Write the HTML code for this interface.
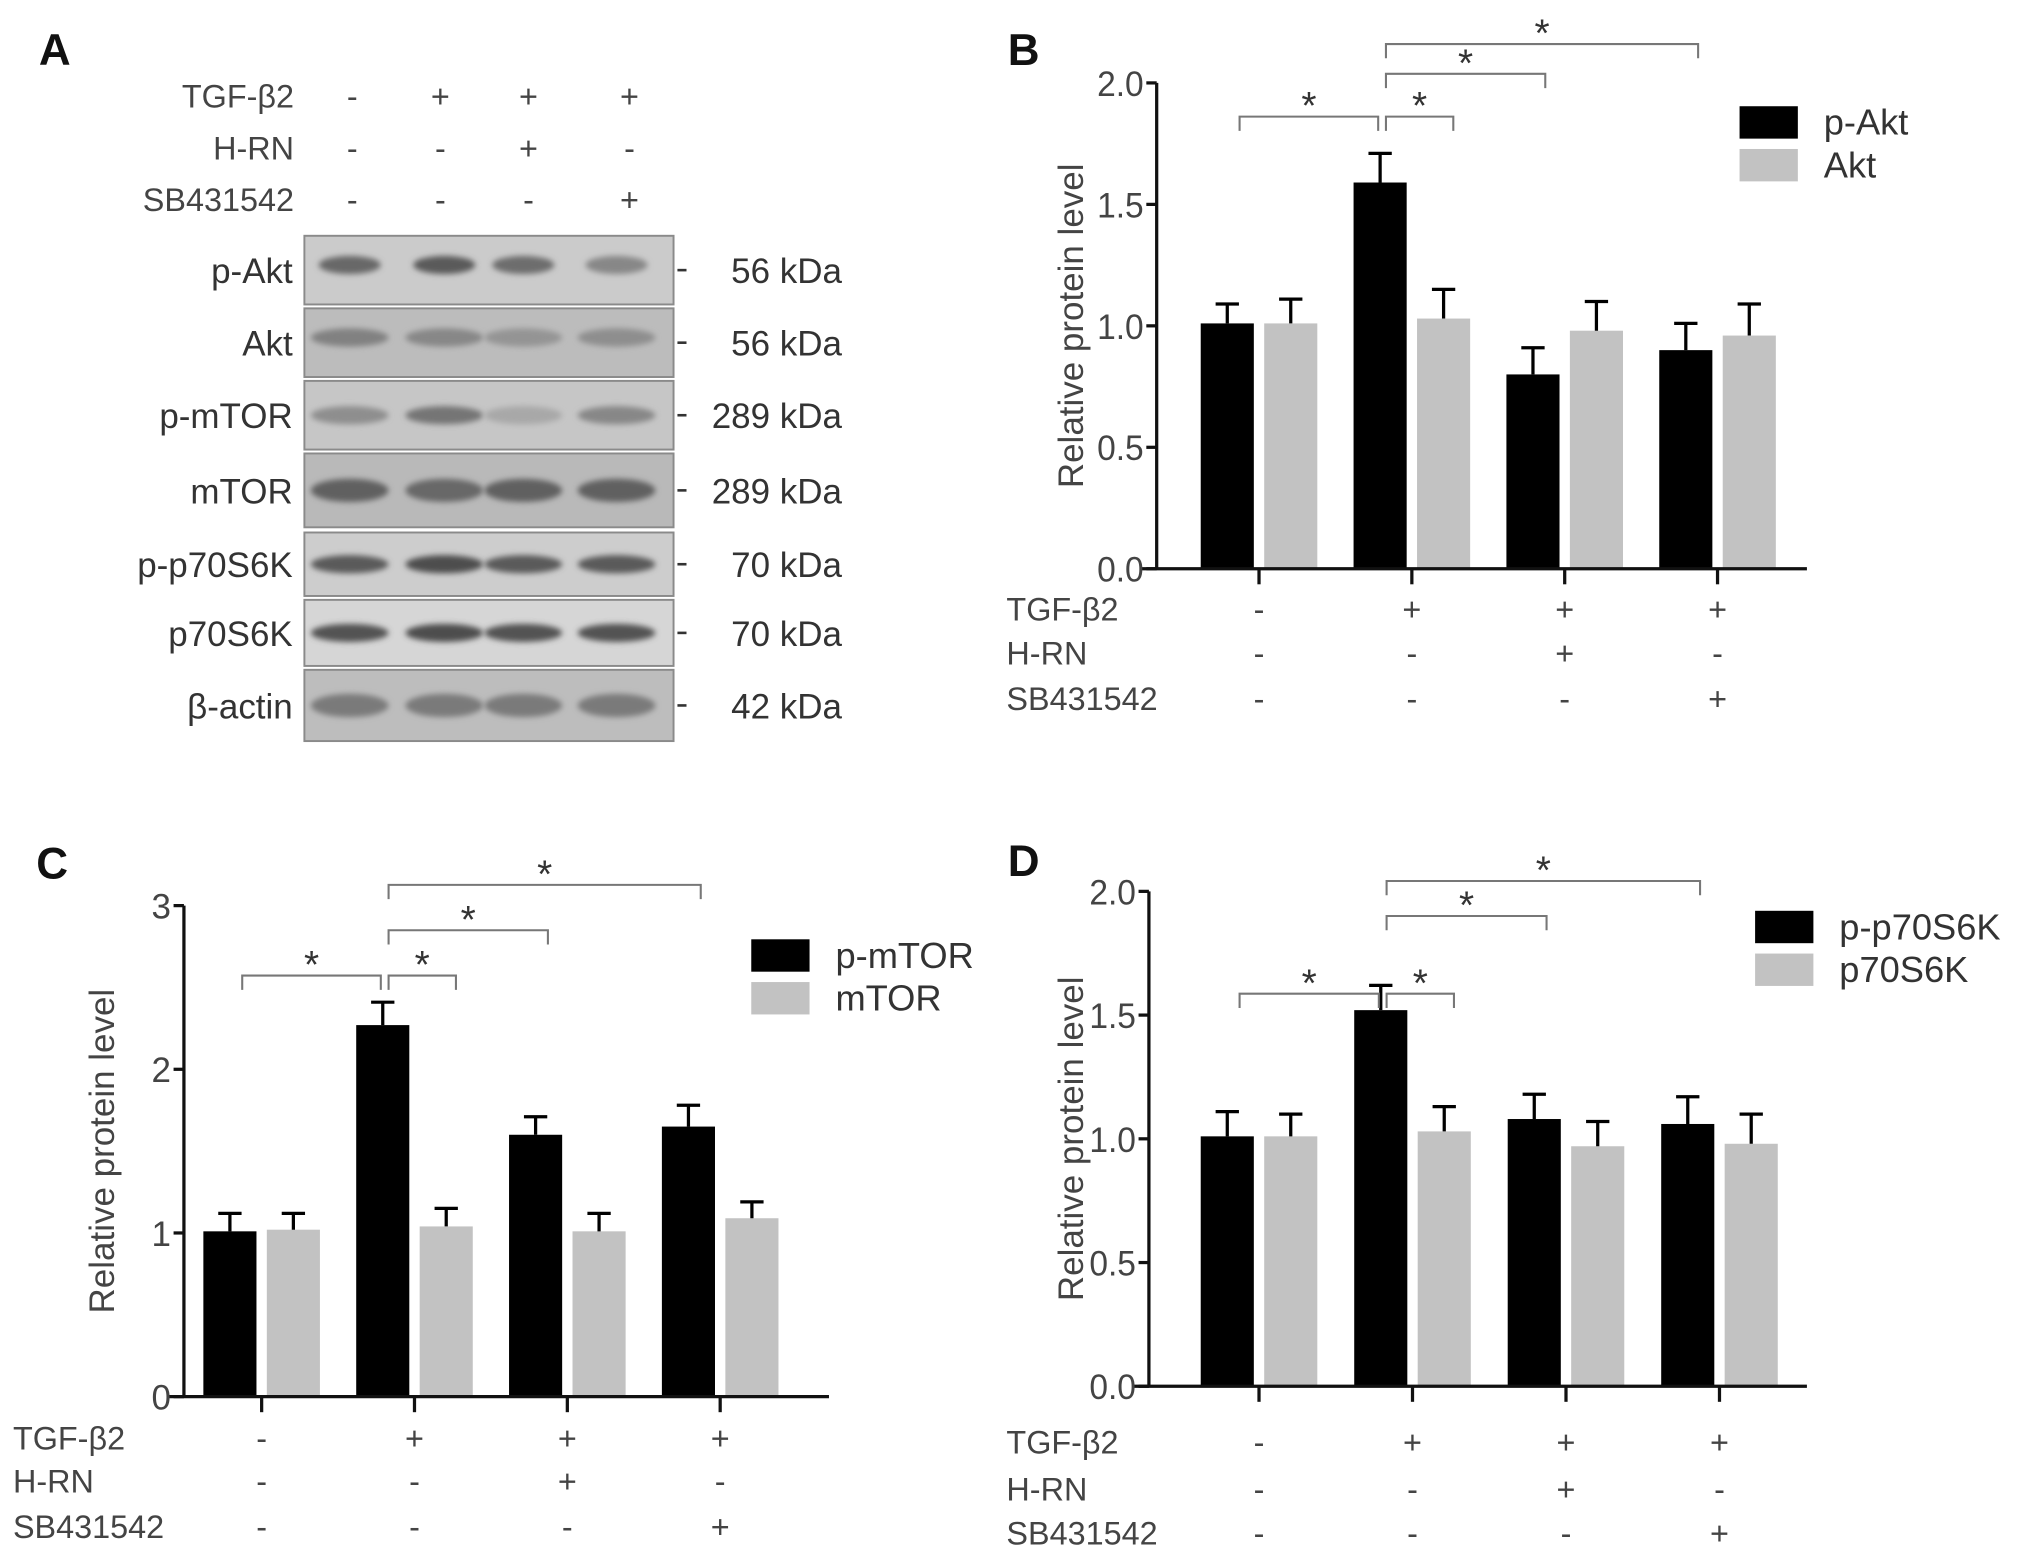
<!DOCTYPE html>
<html><head><meta charset="utf-8"><style>
html,body{margin:0;padding:0;background:#fff;}
svg{display:block;font-family:"Liberation Sans",sans-serif;}
</style></head><body>
<svg id="fig" width="2031" height="1556" viewBox="0 0 1568 1201" preserveAspectRatio="none" xmlns="http://www.w3.org/2000/svg">
<defs><filter id="blur" x="-20%" y="-50%" width="140%" height="200%"><feGaussianBlur stdDeviation="2.2"/></filter></defs>
<g id="panelA"></g>
<g id="panelB"></g>
<g id="panelC"></g>
<g id="panelD"></g>
</svg>
<script>
// ---- data ----
const groups = ["Control","TGF-β2","TGF-β2+H-RN","TGF-β2+SB431542"];
const treatRows = ["TGF-β2","H-RN","SB431542"];
const treatSigns = [["-","+","+","+"],["-","-","+","-"],["-","-","-","+"]];
const pAkt = [1.01,1.59,0.80,0.90];
const pAktErr = [0.08,0.12,0.11,0.11];
const akt = [1.01,1.03,0.98,0.96];
const aktErr = [0.10,0.12,0.12,0.13];
const pmTOR = [1.01,2.27,1.60,1.65];
const pmTORErr = [0.11,0.14,0.11,0.13];
const mTOR = [1.02,1.04,1.01,1.09];
const mTORErr = [0.10,0.11,0.11,0.10];
const pp70 = [1.01,1.52,1.08,1.06];
const pp70Err = [0.10,0.10,0.10,0.11];
const p70 = [1.01,1.03,0.97,0.98];
const p70Err = [0.09,0.10,0.10,0.12];
const ticksB = [0,0.5,1.0,1.5,2.0];
const tickLabelsB = ["0.0","0.5","1.0","1.5","2.0"];
const ticksC = [0,1,2,3];
const tickLabelsC = ["0","1","2","3"];
const blotRows = ["p-Akt","Akt","p-mTOR","mTOR","p-p70S6K","p70S6K","β-actin"];
const blotKDa = ["56 kDa","56 kDa","289 kDa","289 kDa","70 kDa","70 kDa","42 kDa"];
const bandIntensity = [[0.75,0.85,0.7,0.5],[0.55,0.5,0.4,0.45],[0.45,0.65,0.25,0.5],[0.8,0.75,0.8,0.8],[0.85,0.95,0.85,0.85],[0.9,0.95,0.9,0.9],[0.6,0.6,0.6,0.6]];
const brackets = [[0,1],[1,1.5],[1,2],[1,3]];

const NS="http://www.w3.org/2000/svg";
function mk(parent,tag,attrs,text){const e=document.createElementNS(NS,tag);for(const k in attrs)e.setAttribute(k,attrs[k]);if(text!==undefined)e.textContent=text;parent.appendChild(e);return e;}

function drawChart(g, cfg){
  const y=v=>cfg.y0-(v/cfg.yMax)*(cfg.y0-cfg.yTop);
  const cx=i=>cfg.tick0+i*cfg.step;
  const bw=41, gap=4;
  let t=mk(g,'text',{x:cfg.letterX,y:cfg.letterY,'font-size':34,'font-weight':'bold',fill:'#111'},cfg.letter);
  
  
  cfg.s1.forEach((v,i)=>{
    const x1=cx(i)-gap-bw, x2=cx(i)+gap;
    let r=mk(g,'rect',{x:x1,y:y(v),width:bw,height:y(0)-y(v),fill:'#000'});
    
    
    let e=mk(g,'path',{d:`M${x1+bw/2} ${y(v)}V${y(v+cfg.e1[i])}M${x1+bw/2-9} ${y(v+cfg.e1[i])}H${x1+bw/2+9}`,stroke:'#000','stroke-width':2.5,fill:'none'});
    
    
    const v2=cfg.s2[i];
    let r2=mk(g,'rect',{x:x2,y:y(v2),width:bw,height:y(0)-y(v2),fill:'#c2c2c2'});
    
    
    let e2=mk(g,'path',{d:`M${x2+bw/2} ${y(v2)}V${y(v2+cfg.e2[i])}M${x2+bw/2-9} ${y(v2+cfg.e2[i])}H${x2+bw/2+9}`,stroke:'#000','stroke-width':2.5,fill:'none'});
    
    
  });
  let ax=mk(g,'path',{d:`M${cfg.ax} ${cfg.yTop}V${cfg.y0}M${cfg.ax-12} ${cfg.y0}H${cfg.xEnd}`,stroke:'#111','stroke-width':2.5,fill:'none'});
  
  
  cfg.ticks.forEach((tv,i)=>{
    let tk=mk(g,'line',{x1:cfg.ax-8,x2:cfg.ax,y1:y(tv),y2:y(tv),stroke:'#111','stroke-width':2.5});
    
    
    let tl=mk(g,'text',{x:cfg.ax-10,y:y(tv)+10,'font-size':27,'text-anchor':'end',fill:'#444','textLength':cfg.tickLabels[i].length>1?36:'', 'lengthAdjust':'spacingAndGlyphs'},cfg.tickLabels[i]);
    if(cfg.tickLabels[i].length<2) tl.removeAttribute('textLength');
    
    
  });
  groups.forEach((gname,i)=>{
    let tk=mk(g,'line',{x1:cx(i),x2:cx(i),y1:cfg.y0,y2:cfg.y0+12,stroke:'#111','stroke-width':2.5});
    
    
  });
  let yt=mk(g,'text',{x:0,y:0,'font-size':27,'text-anchor':'middle',fill:'#444',transform:`translate(${cfg.titleX},${(cfg.yTop+cfg.y0)/2}) rotate(-90)`},'Relative protein level');
  
  
  treatRows.forEach((rn,ri)=>{
    const ry=cfg.rowY[ri];
    let l=mk(g,'text',{x:cfg.rowLabelX,y:ry+9,'font-size':25,fill:'#444'},rn);
    
    
    treatSigns[ri].forEach((s,i)=>{
      let st=mk(g,'text',{x:cx(i),y:ry+9,'font-size':25,'text-anchor':'middle',fill:'#444'},s);
      
      
    });
  });
  [[cfg.n1,'#000'],[cfg.n2,'#c2c2c2']].forEach((L,k)=>{
    const ly=cfg.legY+k*33;
    let r=mk(g,'rect',{x:cfg.legX,y:ly,width:45,height:25,fill:L[1]});
    
    
    let tx=mk(g,'text',{x:cfg.legX+65,y:ly+22,'font-size':28,fill:'#333'},L[0]);
    
    
  });
  brackets.forEach((b,k)=>{
    let x1,x2;
    if(k===0){x1=cx(0)-15;x2=cx(1)-26;}
    else if(k===1){x1=cx(1)-20;x2=cx(1)+32;}
    else{x1=cx(1)-20;x2=cx(b[1])-15;}
    const by=cfg.brY[k];
    let p=mk(g,'path',{d:`M${x1} ${by+11}V${by}H${x2}V${by+11}`,stroke:'#777','stroke-width':1.6,fill:'none'});
    
    
    let s=mk(g,'text',{x:(x1+x2)/2,y:by+2,'font-size':30,'text-anchor':'middle',fill:'#333'},'*');
    
    
  });
}

drawChart(document.getElementById('panelB'),{letter:'B',letterX:778,letterY:50,ax:893,yTop:64,y0:439,yMax:2,xEnd:1395,tick0:972,step:118,
  s1:pAkt,e1:pAktErr,s2:akt,e2:aktErr,n1:'p-Akt',n2:'Akt',ticks:ticksB,tickLabels:tickLabelsB,titleX:836,rowY:[470,504,539],rowLabelX:777,legX:1343,legY:82,brY:[90,90,57,34]});
drawChart(document.getElementById('panelC'),{letter:'C',letterX:28,letterY:678,ax:142,yTop:699,y0:1078,yMax:3,xEnd:640,tick0:202,step:118,
  s1:pmTOR,e1:pmTORErr,s2:mTOR,e2:mTORErr,n1:'p-mTOR',n2:'mTOR',ticks:ticksC,tickLabels:tickLabelsC,titleX:88,rowY:[1110,1143,1178],rowLabelX:10,legX:580,legY:725,brY:[753,753,718,683]});
drawChart(document.getElementById('panelD'),{letter:'D',letterX:778,letterY:676,ax:887,yTop:688,y0:1070,yMax:2,xEnd:1395,tick0:972,step:118.5,
  s1:pp70,e1:pp70Err,s2:p70,e2:p70Err,n1:'p-p70S6K',n2:'p70S6K',ticks:ticksB,tickLabels:tickLabelsB,titleX:836,rowY:[1113,1149,1183],rowLabelX:777,legX:1355,legY:703,brY:[767,767,707,680]});

// ---- panel A ----
(function(){
  const g=document.getElementById('panelA');
  let t=mk(g,'text',{x:30,y:50,'font-size':34,'font-weight':'bold',fill:'#111'},'A');
  
  
  const lanes=[272,340,408,486];
  const tRowsY=[74,114,154];
  treatRows.forEach((rn,ri)=>{
    let l=mk(g,'text',{x:227,y:tRowsY[ri]+9,'font-size':25,'text-anchor':'end',fill:'#444'},rn);
    
    
    treatSigns[ri].forEach((s,i)=>{
      let st=mk(g,'text',{x:lanes[i],y:tRowsY[ri]+9,'font-size':25,'text-anchor':'middle',fill:'#444'},s);
      
      
    });
  });
  const rowTop=[182,238,294,350,411,463,517];
  const rowBot=[235,291,347,407,460,514,572];
  const bg=['#cbcbcb','#bcbcbc','#c6c6c6','#b9b9b9','#cdcdcd','#d6d6d6','#bdbdbd'];
  const bandX=[270,343,404,476];
  blotRows.forEach((rn,ri)=>{
    const top=rowTop[ri],bot=rowBot[ri],mid=(top+bot)/2;
    let r=mk(g,'rect',{x:235,y:top,width:285,height:bot-top,fill:bg[ri],stroke:'#8a8a8a','stroke-width':1.5});
    
    
    bandIntensity[ri].forEach((iv,li)=>{
      const c=Math.round(200-iv*130);
      let b=mk(g,'ellipse',{cx:bandX[li],cy:mid-(ri<2?4:0),rx:ri===0?24:30,ry:ri===3||ri===6?9:7,fill:`rgb(${c},${c},${c})`,filter:'url(#blur)'});
      
      
    });
    let l=mk(g,'text',{x:226,y:mid+10,'font-size':27,'text-anchor':'end',fill:'#333'},rn);
    
    
    let tk=mk(g,'line',{x1:523,x2:530,y1:mid,y2:mid,stroke:'#333','stroke-width':2});
    
    
    let k=mk(g,'text',{x:650,y:mid+10,'font-size':27,'text-anchor':'end',fill:'#333'},blotKDa[ri]);
    
    
  });
})();
</script>
</body></html>
